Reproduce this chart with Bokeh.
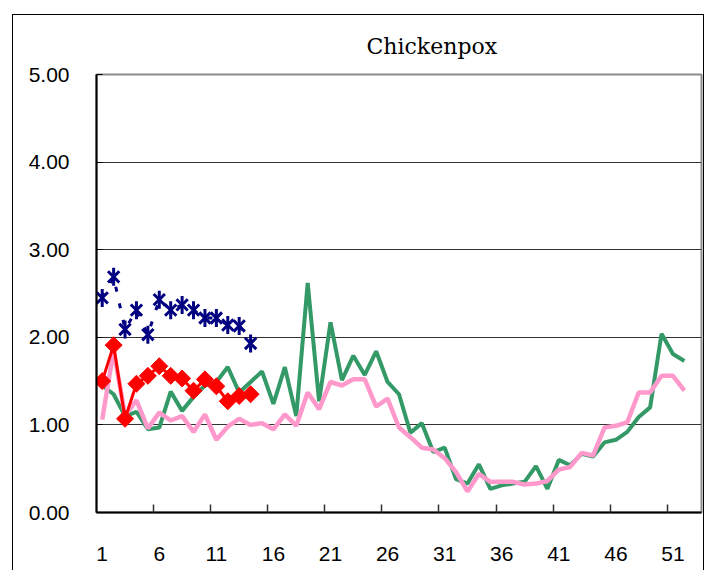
import numpy as np
from bokeh.plotting import figure
from bokeh.models import Range1d, FixedTicker, NumeralTickFormatter, Title
from bokeh.embed import file_html
from bokeh.resources import INLINE

# ---- data ----
weeks = list(range(1, 53))
green_vals = [1.45, 1.35, 1.10, 1.15, 0.95, 0.97, 1.38, 1.16, 1.32, 1.45,
              1.49, 1.66, 1.37, 1.49, 1.61, 1.24, 1.66, 1.10, 2.62, 1.27,
              2.17, 1.51, 1.79, 1.57, 1.84, 1.49, 1.35, 0.91, 1.02, 0.69,
              0.74, 0.38, 0.33, 0.55, 0.27, 0.31, 0.33, 0.35, 0.53, 0.27,
              0.60, 0.54, 0.67, 0.64, 0.80, 0.83, 0.92, 1.09, 1.20, 2.04,
              1.81, 1.73]
pink_vals = [1.06, 1.85, 1.11, 1.28, 0.96, 1.14, 1.05, 1.10, 0.92, 1.12,
             0.83, 0.98, 1.07, 1.00, 1.02, 0.95, 1.12, 0.99, 1.37, 1.18,
             1.49, 1.45, 1.52, 1.52, 1.21, 1.30, 0.97, 0.86, 0.74, 0.72,
             0.62, 0.46, 0.24, 0.44, 0.35, 0.35, 0.35, 0.32, 0.33, 0.36,
             0.49, 0.52, 0.68, 0.65, 0.97, 0.99, 1.03, 1.37, 1.37, 1.56,
             1.56, 1.39]
cur_weeks = list(range(1, 15))
red_vals = [1.50, 1.91, 1.07, 1.47, 1.56, 1.67, 1.56, 1.53, 1.39, 1.52,
            1.44, 1.27, 1.33, 1.35]
navy_vals = [2.45, 2.69, 2.09, 2.31, 2.03, 2.43, 2.31, 2.37, 2.31, 2.22,
             2.22, 2.14, 2.13, 1.93]
x_tick_labels = [1, 6, 11, 16, 21, 26, 31, 36, 41, 46, 51]
y_ticks = [0, 1, 2, 3, 4, 5]
n_categories = 53

# ---- figure ----
p = figure(frame_width=605, frame_height=438,
           x_range=Range1d(0.5, n_categories + 0.5), y_range=Range1d(0, 5),
           output_backend="svg", toolbar_location=None,
           min_border_left=96, min_border_right=4,
           min_border_top=74, min_border_bottom=58)
p.styles = {
    "background-image": "linear-gradient(#000,#000), linear-gradient(#000,#000), linear-gradient(#000,#000)",
    "background-position": "12px 14px, 12px 14px, 703px 14px",
    "background-size": "1px 600px, 692px 1px, 1px 600px",
    "background-repeat": "no-repeat",
}
p.background_fill_color = "white"
p.border_fill_color = None
p.outline_line_color = "#8c8c8c"
p.outline_line_width = 2

p.title = Title(text="Chickenpox", align="left", offset=270, standoff=31,
                text_font="DejaVu Serif", text_font_size="22px",
                text_font_style="normal", text_color="black")

# y axis
p.yaxis.ticker = FixedTicker(ticks=y_ticks)
p.yaxis.formatter = NumeralTickFormatter(format="0.00")
p.yaxis.axis_line_color = "black"
p.yaxis.axis_line_width = 2
p.yaxis.major_tick_in = 6
p.yaxis.major_tick_out = 0
p.yaxis.major_tick_line_color = "black"
p.yaxis.minor_tick_line_color = None
p.yaxis.major_label_standoff = 27
p.yaxis.major_label_text_font = "Liberation Sans"
p.yaxis.major_label_text_font_size = "21px"
p.yaxis.major_label_text_color = "black"

# x axis
p.xaxis.ticker = FixedTicker(ticks=x_tick_labels,
                             minor_ticks=[t - 0.5 for t in x_tick_labels[1:]])
p.xaxis.axis_line_color = "black"
p.xaxis.axis_line_width = 2
p.xaxis.major_tick_line_color = None
p.xaxis.minor_tick_in = 8
p.xaxis.minor_tick_out = 0
p.xaxis.minor_tick_line_color = "#333333"
p.xaxis.minor_tick_line_width = 1.5
p.xaxis.major_label_standoff = 28
p.xaxis.major_label_text_font = "Liberation Sans"
p.xaxis.major_label_text_font_size = "21px"
p.xaxis.major_label_text_color = "black"

p.xgrid.visible = False
p.ygrid.ticker = FixedTicker(ticks=y_ticks[:-1])
p.ygrid.grid_line_color = "#333333"
p.ygrid.grid_line_width = 1

# ---- series ----
p.line(weeks, green_vals, line_color="#339966", line_width=4)
p.line(weeks, pink_vals, line_color="#FF99CC", line_width=4.5)

p.line(cur_weeks, red_vals, line_color="#FF0000", line_width=3)
p.scatter(cur_weeks, red_vals, marker="square", angle=np.pi / 4, size=12,
          fill_color="#FF0000", line_color="#FF0000")

p.line(cur_weeks, navy_vals, line_color="#000080", line_width=3, line_dash="5 12")
p.scatter(cur_weeks, navy_vals, marker="x", size=16, line_color="#000080",
          line_width=3)
p.scatter(cur_weeks, navy_vals, marker="dash", angle=np.pi / 2, size=18,
          line_color="#000080", line_width=3)

open("out.html", "w").write(file_html(p, INLINE))
